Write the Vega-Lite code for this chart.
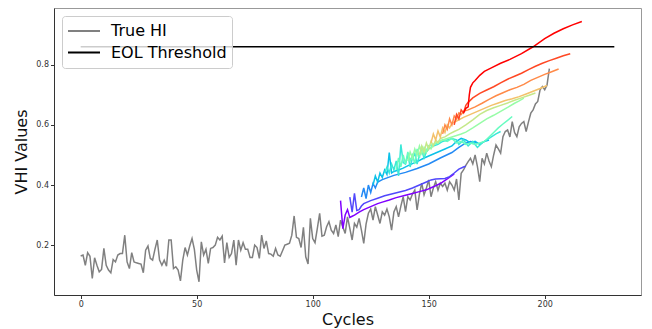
{
  "$schema": "https://vega.github.io/schema/vega-lite/v6.json",
  "width": 587,
  "height": 287,
  "autosize": {"type": "none"},
  "padding": {"left": 54, "top": 8, "right": 11, "bottom": 34},
  "config": {
    "font": "DejaVu Sans",
    "view": {"stroke": "#999", "strokeWidth": 1},
    "axis": {"grid": false, "domainColor": "#333", "tickColor": "#333", "labelColor": "#333", "tickSize": 3.5, "labelFontSize": 8, "labelPadding": 2, "titleFontSize": 16, "titleFontWeight": "normal", "titleColor": "#111"}
  },
  "data": {"values": [
    {"c":0,"v":0.164,"s":"True HI"},{"c":1,"v":0.167,"s":"True HI"},{"c":2,"v":0.133,"s":"True HI"},{"c":3,"v":0.175,"s":"True HI"},{"c":4,"v":0.163,"s":"True HI"},{"c":5,"v":0.089,"s":"True HI"},{"c":6,"v":0.158,"s":"True HI"},{"c":7,"v":0.133,"s":"True HI"},{"c":8,"v":0.111,"s":"True HI"},{"c":9,"v":0.119,"s":"True HI"},
    {"c":10,"v":0.189,"s":"True HI"},{"c":11,"v":0.133,"s":"True HI"},{"c":12,"v":0.117,"s":"True HI"},{"c":13,"v":0.108,"s":"True HI"},{"c":14,"v":0.152,"s":"True HI"},{"c":15,"v":0.144,"s":"True HI"},{"c":16,"v":0.167,"s":"True HI"},{"c":17,"v":0.172,"s":"True HI"},{"c":18,"v":0.172,"s":"True HI"},{"c":19,"v":0.233,"s":"True HI"},
    {"c":20,"v":0.144,"s":"True HI"},{"c":21,"v":0.122,"s":"True HI"},{"c":22,"v":0.175,"s":"True HI"},{"c":23,"v":0.144,"s":"True HI"},{"c":24,"v":0.141,"s":"True HI"},{"c":25,"v":0.139,"s":"True HI"},{"c":26,"v":0.137,"s":"True HI"},{"c":27,"v":0.108,"s":"True HI"},{"c":28,"v":0.183,"s":"True HI"},{"c":29,"v":0.197,"s":"True HI"},
    {"c":30,"v":0.156,"s":"True HI"},{"c":31,"v":0.15,"s":"True HI"},{"c":32,"v":0.186,"s":"True HI"},{"c":33,"v":0.217,"s":"True HI"},{"c":34,"v":0.15,"s":"True HI"},{"c":35,"v":0.133,"s":"True HI"},{"c":36,"v":0.15,"s":"True HI"},{"c":37,"v":0.13,"s":"True HI"},{"c":38,"v":0.217,"s":"True HI"},{"c":39,"v":0.217,"s":"True HI"},
    {"c":40,"v":0.122,"s":"True HI"},{"c":41,"v":0.128,"s":"True HI"},{"c":42,"v":0.117,"s":"True HI"},{"c":43,"v":0.081,"s":"True HI"},{"c":44,"v":0.15,"s":"True HI"},{"c":45,"v":0.192,"s":"True HI"},{"c":46,"v":0.167,"s":"True HI"},{"c":47,"v":0.197,"s":"True HI"},{"c":48,"v":0.222,"s":"True HI"},{"c":49,"v":0.186,"s":"True HI"},
    {"c":50,"v":0.117,"s":"True HI"},{"c":51,"v":0.078,"s":"True HI"},{"c":52,"v":0.211,"s":"True HI"},{"c":53,"v":0.167,"s":"True HI"},{"c":54,"v":0.186,"s":"True HI"},{"c":55,"v":0.139,"s":"True HI"},{"c":56,"v":0.189,"s":"True HI"},{"c":57,"v":0.192,"s":"True HI"},{"c":58,"v":0.2,"s":"True HI"},{"c":59,"v":0.226,"s":"True HI"},
    {"c":60,"v":0.217,"s":"True HI"},{"c":61,"v":0.23,"s":"True HI"},{"c":62,"v":0.141,"s":"True HI"},{"c":63,"v":0.208,"s":"True HI"},{"c":64,"v":0.159,"s":"True HI"},{"c":65,"v":0.172,"s":"True HI"},{"c":66,"v":0.217,"s":"True HI"},{"c":67,"v":0.133,"s":"True HI"},{"c":68,"v":0.217,"s":"True HI"},{"c":69,"v":0.183,"s":"True HI"},
    {"c":70,"v":0.208,"s":"True HI"},{"c":71,"v":0.186,"s":"True HI"},{"c":72,"v":0.186,"s":"True HI"},{"c":73,"v":0.159,"s":"True HI"},{"c":74,"v":0.159,"s":"True HI"},{"c":75,"v":0.2,"s":"True HI"},{"c":76,"v":0.192,"s":"True HI"},{"c":77,"v":0.156,"s":"True HI"},{"c":78,"v":0.233,"s":"True HI"},{"c":79,"v":0.189,"s":"True HI"},
    {"c":80,"v":0.214,"s":"True HI"},{"c":81,"v":0.172,"s":"True HI"},{"c":82,"v":0.17,"s":"True HI"},{"c":83,"v":0.163,"s":"True HI"},{"c":84,"v":0.189,"s":"True HI"},{"c":85,"v":0.167,"s":"True HI"},{"c":86,"v":0.163,"s":"True HI"},{"c":87,"v":0.181,"s":"True HI"},{"c":88,"v":0.2,"s":"True HI"},{"c":89,"v":0.203,"s":"True HI"},
    {"c":90,"v":0.206,"s":"True HI"},{"c":91,"v":0.233,"s":"True HI"},{"c":92,"v":0.297,"s":"True HI"},{"c":93,"v":0.226,"s":"True HI"},{"c":94,"v":0.222,"s":"True HI"},{"c":95,"v":0.192,"s":"True HI"},{"c":96,"v":0.259,"s":"True HI"},{"c":97,"v":0.161,"s":"True HI"},{"c":98,"v":0.137,"s":"True HI"},{"c":99,"v":0.289,"s":"True HI"},
    {"c":100,"v":0.222,"s":"True HI"},{"c":101,"v":0.208,"s":"True HI"},{"c":102,"v":0.256,"s":"True HI"},{"c":103,"v":0.306,"s":"True HI"},{"c":104,"v":0.23,"s":"True HI"},{"c":105,"v":0.233,"s":"True HI"},{"c":106,"v":0.261,"s":"True HI"},{"c":107,"v":0.278,"s":"True HI"},{"c":108,"v":0.25,"s":"True HI"},{"c":109,"v":0.239,"s":"True HI"},
    {"c":110,"v":0.267,"s":"True HI"},{"c":111,"v":0.228,"s":"True HI"},{"c":112,"v":0.283,"s":"True HI"},{"c":113,"v":0.26,"s":"True HI"},{"c":114,"v":0.239,"s":"True HI"},{"c":115,"v":0.294,"s":"True HI"},{"c":116,"v":0.256,"s":"True HI"},{"c":117,"v":0.217,"s":"True HI"},{"c":118,"v":0.272,"s":"True HI"},{"c":119,"v":0.26,"s":"True HI"},
    {"c":120,"v":0.289,"s":"True HI"},{"c":121,"v":0.25,"s":"True HI"},{"c":122,"v":0.206,"s":"True HI"},{"c":123,"v":0.27,"s":"True HI"},{"c":124,"v":0.306,"s":"True HI"},{"c":125,"v":0.32,"s":"True HI"},{"c":126,"v":0.283,"s":"True HI"},{"c":127,"v":0.328,"s":"True HI"},{"c":128,"v":0.3,"s":"True HI"},{"c":129,"v":0.272,"s":"True HI"},
    {"c":130,"v":0.311,"s":"True HI"},{"c":131,"v":0.3,"s":"True HI"},{"c":132,"v":0.32,"s":"True HI"},{"c":133,"v":0.294,"s":"True HI"},{"c":134,"v":0.25,"s":"True HI"},{"c":135,"v":0.31,"s":"True HI"},{"c":136,"v":0.328,"s":"True HI"},{"c":137,"v":0.294,"s":"True HI"},{"c":138,"v":0.33,"s":"True HI"},{"c":139,"v":0.361,"s":"True HI"},
    {"c":140,"v":0.311,"s":"True HI"},{"c":141,"v":0.361,"s":"True HI"},{"c":142,"v":0.35,"s":"True HI"},{"c":143,"v":0.37,"s":"True HI"},{"c":144,"v":0.383,"s":"True HI"},{"c":145,"v":0.317,"s":"True HI"},{"c":146,"v":0.37,"s":"True HI"},{"c":147,"v":0.406,"s":"True HI"},{"c":148,"v":0.367,"s":"True HI"},{"c":149,"v":0.39,"s":"True HI"},
    {"c":150,"v":0.417,"s":"True HI"},{"c":151,"v":0.361,"s":"True HI"},{"c":152,"v":0.39,"s":"True HI"},{"c":153,"v":0.411,"s":"True HI"},{"c":154,"v":0.383,"s":"True HI"},{"c":155,"v":0.406,"s":"True HI"},{"c":156,"v":0.395,"s":"True HI"},{"c":157,"v":0.406,"s":"True HI"},{"c":158,"v":0.383,"s":"True HI"},{"c":159,"v":0.411,"s":"True HI"},
    {"c":160,"v":0.4,"s":"True HI"},{"c":161,"v":0.383,"s":"True HI"},{"c":162,"v":0.42,"s":"True HI"},{"c":163,"v":0.35,"s":"True HI"},{"c":164,"v":0.439,"s":"True HI"},{"c":165,"v":0.45,"s":"True HI"},{"c":166,"v":0.465,"s":"True HI"},{"c":167,"v":0.478,"s":"True HI"},{"c":168,"v":0.489,"s":"True HI"},{"c":169,"v":0.47,"s":"True HI"},
    {"c":170,"v":0.5,"s":"True HI"},{"c":171,"v":0.461,"s":"True HI"},{"c":172,"v":0.411,"s":"True HI"},{"c":173,"v":0.489,"s":"True HI"},{"c":174,"v":0.47,"s":"True HI"},{"c":175,"v":0.506,"s":"True HI"},{"c":176,"v":0.48,"s":"True HI"},{"c":177,"v":0.461,"s":"True HI"},{"c":178,"v":0.5,"s":"True HI"},{"c":179,"v":0.533,"s":"True HI"},
    {"c":180,"v":0.52,"s":"True HI"},{"c":181,"v":0.506,"s":"True HI"},{"c":182,"v":0.561,"s":"True HI"},{"c":183,"v":0.578,"s":"True HI"},{"c":184,"v":0.583,"s":"True HI"},{"c":185,"v":0.56,"s":"True HI"},{"c":186,"v":0.611,"s":"True HI"},{"c":187,"v":0.575,"s":"True HI"},{"c":188,"v":0.561,"s":"True HI"},{"c":189,"v":0.594,"s":"True HI"},
    {"c":190,"v":0.605,"s":"True HI"},{"c":191,"v":0.611,"s":"True HI"},{"c":192,"v":0.578,"s":"True HI"},{"c":193,"v":0.61,"s":"True HI"},{"c":194,"v":0.639,"s":"True HI"},{"c":195,"v":0.65,"s":"True HI"},{"c":196,"v":0.67,"s":"True HI"},{"c":197,"v":0.678,"s":"True HI"},{"c":198,"v":0.717,"s":"True HI"},{"c":199,"v":0.728,"s":"True HI"},
    {"c":200,"v":0.717,"s":"True HI"},{"c":201,"v":0.733,"s":"True HI"},{"c":202,"v":0.787,"s":"True HI"},

    {"c":112,"v":0.348,"s":"p00"},{"c":112.5,"v":0.3,"s":"p00"},{"c":113,"v":0.255,"s":"p00"},{"c":114,"v":0.3,"s":"p00"},{"c":115,"v":0.318,"s":"p00"},{"c":116,"v":0.292,"s":"p00"},{"c":117,"v":0.296,"s":"p00"},{"c":118,"v":0.3,"s":"p00"},{"c":120,"v":0.31,"s":"p00"},{"c":122,"v":0.318,"s":"p00"},{"c":125,"v":0.328,"s":"p00"},{"c":128,"v":0.338,"s":"p00"},{"c":130,"v":0.343,"s":"p00"},{"c":133,"v":0.35,"s":"p00"},{"c":136,"v":0.358,"s":"p00"},{"c":140,"v":0.366,"s":"p00"},{"c":143,"v":0.372,"s":"p00"},{"c":146,"v":0.378,"s":"p00"},{"c":149,"v":0.384,"s":"p00"},{"c":152,"v":0.394,"s":"p00"},{"c":155,"v":0.405,"s":"p00"},{"c":158,"v":0.42,"s":"p00"},{"c":161,"v":0.437,"s":"p00"},

    {"c":116,"v":0.36,"s":"p01"},{"c":117,"v":0.31,"s":"p01"},{"c":118,"v":0.372,"s":"p01"},{"c":119,"v":0.315,"s":"p01"},{"c":120,"v":0.318,"s":"p01"},{"c":121,"v":0.33,"s":"p01"},{"c":122,"v":0.338,"s":"p01"},{"c":125,"v":0.348,"s":"p01"},{"c":128,"v":0.356,"s":"p01"},{"c":131,"v":0.364,"s":"p01"},{"c":134,"v":0.37,"s":"p01"},{"c":137,"v":0.376,"s":"p01"},{"c":140,"v":0.382,"s":"p01"},{"c":143,"v":0.39,"s":"p01"},{"c":146,"v":0.4,"s":"p01"},{"c":149,"v":0.41,"s":"p01"},{"c":151,"v":0.417,"s":"p01"},{"c":153,"v":0.42,"s":"p01"},{"c":155,"v":0.421,"s":"p01"},{"c":157,"v":0.422,"s":"p01"},{"c":159,"v":0.428,"s":"p01"},{"c":161,"v":0.44,"s":"p01"},{"c":163,"v":0.453,"s":"p01"},{"c":165,"v":0.46,"s":"p01"},{"c":166,"v":0.463,"s":"p01"},

    {"c":121,"v":0.36,"s":"p02"},{"c":122,"v":0.39,"s":"p02"},{"c":123,"v":0.355,"s":"p02"},{"c":124,"v":0.4,"s":"p02"},{"c":125,"v":0.375,"s":"p02"},{"c":126,"v":0.405,"s":"p02"},{"c":127,"v":0.39,"s":"p02"},{"c":128,"v":0.41,"s":"p02"},{"c":130,"v":0.418,"s":"p02"},{"c":135,"v":0.432,"s":"p02"},{"c":140,"v":0.442,"s":"p02"},{"c":145,"v":0.455,"s":"p02"},{"c":150,"v":0.47,"s":"p02"},{"c":155,"v":0.49,"s":"p02"},{"c":160,"v":0.508,"s":"p02"},{"c":163,"v":0.525,"s":"p02"},{"c":166,"v":0.54,"s":"p02"},{"c":168,"v":0.545,"s":"p02"},{"c":171,"v":0.54,"s":"p02"},

    {"c":126,"v":0.4,"s":"p03"},{"c":127,"v":0.43,"s":"p03"},{"c":128,"v":0.41,"s":"p03"},{"c":129,"v":0.44,"s":"p03"},{"c":130,"v":0.425,"s":"p03"},{"c":131,"v":0.45,"s":"p03"},{"c":132,"v":0.435,"s":"p03"},{"c":133,"v":0.508,"s":"p03"},{"c":134,"v":0.44,"s":"p03"},{"c":135,"v":0.445,"s":"p03"},{"c":137,"v":0.45,"s":"p03"},{"c":139,"v":0.456,"s":"p03"},{"c":142,"v":0.468,"s":"p03"},{"c":145,"v":0.478,"s":"p03"},{"c":148,"v":0.49,"s":"p03"},{"c":151,"v":0.5,"s":"p03"},{"c":154,"v":0.51,"s":"p03"},{"c":157,"v":0.52,"s":"p03"},{"c":160,"v":0.53,"s":"p03"},{"c":162,"v":0.545,"s":"p03"},{"c":164,"v":0.555,"s":"p03"},{"c":166,"v":0.55,"s":"p03"},{"c":168,"v":0.54,"s":"p03"},{"c":170,"v":0.545,"s":"p03"},{"c":172,"v":0.535,"s":"p03"},{"c":174,"v":0.545,"s":"p03"},{"c":176,"v":0.55,"s":"p03"},

    {"c":131,"v":0.44,"s":"p04"},{"c":132,"v":0.46,"s":"p04"},{"c":133,"v":0.44,"s":"p04"},{"c":134,"v":0.47,"s":"p04"},{"c":135,"v":0.45,"s":"p04"},{"c":136,"v":0.48,"s":"p04"},{"c":137,"v":0.43,"s":"p04"},{"c":138,"v":0.535,"s":"p04"},{"c":139,"v":0.475,"s":"p04"},{"c":140,"v":0.47,"s":"p04"},{"c":141,"v":0.5,"s":"p04"},{"c":142,"v":0.46,"s":"p04"},{"c":143,"v":0.49,"s":"p04"},{"c":144,"v":0.505,"s":"p04"},{"c":145,"v":0.47,"s":"p04"},{"c":146,"v":0.5,"s":"p04"},{"c":147,"v":0.515,"s":"p04"},{"c":148,"v":0.49,"s":"p04"},{"c":149,"v":0.51,"s":"p04"},{"c":150,"v":0.52,"s":"p04"},{"c":152,"v":0.53,"s":"p04"},{"c":154,"v":0.535,"s":"p04"},{"c":156,"v":0.545,"s":"p04"},{"c":158,"v":0.55,"s":"p04"},{"c":160,"v":0.555,"s":"p04"},{"c":162,"v":0.55,"s":"p04"},{"c":163,"v":0.535,"s":"p04"},{"c":165,"v":0.55,"s":"p04"},{"c":167,"v":0.53,"s":"p04"},{"c":169,"v":0.545,"s":"p04"},{"c":171,"v":0.525,"s":"p04"},{"c":173,"v":0.54,"s":"p04"},{"c":175,"v":0.55,"s":"p04"},{"c":177,"v":0.56,"s":"p04"},{"c":179,"v":0.57,"s":"p04"},{"c":181,"v":0.578,"s":"p04"},

    {"c":136,"v":0.45,"s":"p05"},{"c":137,"v":0.49,"s":"p05"},{"c":138,"v":0.46,"s":"p05"},{"c":139,"v":0.5,"s":"p05"},{"c":140,"v":0.47,"s":"p05"},{"c":141,"v":0.51,"s":"p05"},{"c":142,"v":0.48,"s":"p05"},{"c":143,"v":0.5,"s":"p05"},{"c":144,"v":0.47,"s":"p05"},{"c":145,"v":0.52,"s":"p05"},{"c":146,"v":0.49,"s":"p05"},{"c":147,"v":0.53,"s":"p05"},{"c":148,"v":0.5,"s":"p05"},{"c":149,"v":0.515,"s":"p05"},{"c":150,"v":0.53,"s":"p05"},{"c":152,"v":0.535,"s":"p05"},{"c":154,"v":0.54,"s":"p05"},{"c":156,"v":0.55,"s":"p05"},{"c":158,"v":0.545,"s":"p05"},{"c":160,"v":0.555,"s":"p05"},{"c":162,"v":0.54,"s":"p05"},{"c":164,"v":0.545,"s":"p05"},{"c":166,"v":0.535,"s":"p05"},{"c":168,"v":0.54,"s":"p05"},{"c":170,"v":0.535,"s":"p05"},{"c":172,"v":0.54,"s":"p05"},{"c":174,"v":0.545,"s":"p05"},{"c":176,"v":0.56,"s":"p05"},{"c":178,"v":0.575,"s":"p05"},{"c":180,"v":0.59,"s":"p05"},{"c":182,"v":0.603,"s":"p05"},{"c":184,"v":0.615,"s":"p05"},{"c":186,"v":0.628,"s":"p05"},

    {"c":141,"v":0.48,"s":"p06"},{"c":142,"v":0.51,"s":"p06"},{"c":143,"v":0.49,"s":"p06"},{"c":144,"v":0.52,"s":"p06"},{"c":145,"v":0.5,"s":"p06"},{"c":146,"v":0.53,"s":"p06"},{"c":147,"v":0.505,"s":"p06"},{"c":148,"v":0.525,"s":"p06"},{"c":149,"v":0.51,"s":"p06"},{"c":150,"v":0.53,"s":"p06"},{"c":151,"v":0.52,"s":"p06"},{"c":152,"v":0.535,"s":"p06"},{"c":154,"v":0.545,"s":"p06"},{"c":156,"v":0.55,"s":"p06"},{"c":158,"v":0.555,"s":"p06"},{"c":160,"v":0.56,"s":"p06"},{"c":162,"v":0.565,"s":"p06"},{"c":164,"v":0.57,"s":"p06"},{"c":166,"v":0.576,"s":"p06"},{"c":169,"v":0.59,"s":"p06"},{"c":172,"v":0.605,"s":"p06"},{"c":175,"v":0.62,"s":"p06"},{"c":178,"v":0.632,"s":"p06"},{"c":181,"v":0.645,"s":"p06"},{"c":184,"v":0.658,"s":"p06"},{"c":187,"v":0.672,"s":"p06"},{"c":189,"v":0.68,"s":"p06"},{"c":191,"v":0.689,"s":"p06"},

    {"c":146,"v":0.5,"s":"p07"},{"c":147,"v":0.53,"s":"p07"},{"c":148,"v":0.51,"s":"p07"},{"c":149,"v":0.54,"s":"p07"},{"c":150,"v":0.52,"s":"p07"},{"c":151,"v":0.545,"s":"p07"},{"c":152,"v":0.53,"s":"p07"},{"c":153,"v":0.55,"s":"p07"},{"c":154,"v":0.54,"s":"p07"},{"c":155,"v":0.555,"s":"p07"},{"c":157,"v":0.56,"s":"p07"},{"c":159,"v":0.57,"s":"p07"},{"c":161,"v":0.578,"s":"p07"},{"c":163,"v":0.585,"s":"p07"},{"c":166,"v":0.6,"s":"p07"},{"c":169,"v":0.617,"s":"p07"},{"c":172,"v":0.635,"s":"p07"},{"c":175,"v":0.648,"s":"p07"},{"c":178,"v":0.657,"s":"p07"},{"c":181,"v":0.665,"s":"p07"},{"c":184,"v":0.673,"s":"p07"},{"c":187,"v":0.682,"s":"p07"},{"c":190,"v":0.69,"s":"p07"},{"c":193,"v":0.698,"s":"p07"},{"c":196,"v":0.706,"s":"p07"},

    {"c":151,"v":0.54,"s":"p08"},{"c":152,"v":0.57,"s":"p08"},{"c":153,"v":0.55,"s":"p08"},{"c":154,"v":0.58,"s":"p08"},{"c":155,"v":0.56,"s":"p08"},{"c":156,"v":0.59,"s":"p08"},{"c":157,"v":0.575,"s":"p08"},{"c":158,"v":0.6,"s":"p08"},{"c":159,"v":0.59,"s":"p08"},{"c":160,"v":0.605,"s":"p08"},{"c":162,"v":0.613,"s":"p08"},{"c":165,"v":0.625,"s":"p08"},{"c":168,"v":0.635,"s":"p08"},{"c":171,"v":0.645,"s":"p08"},{"c":174,"v":0.655,"s":"p08"},{"c":177,"v":0.665,"s":"p08"},{"c":180,"v":0.673,"s":"p08"},{"c":183,"v":0.681,"s":"p08"},{"c":186,"v":0.687,"s":"p08"},{"c":189,"v":0.694,"s":"p08"},{"c":192,"v":0.703,"s":"p08"},{"c":195,"v":0.712,"s":"p08"},{"c":198,"v":0.721,"s":"p08"},{"c":201,"v":0.731,"s":"p08"},

    {"c":156,"v":0.57,"s":"p09"},{"c":157,"v":0.6,"s":"p09"},{"c":158,"v":0.585,"s":"p09"},{"c":159,"v":0.62,"s":"p09"},{"c":160,"v":0.6,"s":"p09"},{"c":161,"v":0.63,"s":"p09"},{"c":162,"v":0.62,"s":"p09"},{"c":163,"v":0.64,"s":"p09"},{"c":164,"v":0.635,"s":"p09"},{"c":165,"v":0.645,"s":"p09"},{"c":167,"v":0.65,"s":"p09"},{"c":170,"v":0.66,"s":"p09"},{"c":173,"v":0.672,"s":"p09"},{"c":176,"v":0.685,"s":"p09"},{"c":179,"v":0.697,"s":"p09"},{"c":182,"v":0.707,"s":"p09"},{"c":185,"v":0.717,"s":"p09"},{"c":188,"v":0.725,"s":"p09"},{"c":191,"v":0.735,"s":"p09"},{"c":194,"v":0.748,"s":"p09"},{"c":197,"v":0.758,"s":"p09"},{"c":200,"v":0.768,"s":"p09"},{"c":203,"v":0.777,"s":"p09"},{"c":206,"v":0.786,"s":"p09"},

    {"c":161,"v":0.6,"s":"p10"},{"c":162,"v":0.635,"s":"p10"},{"c":163,"v":0.62,"s":"p10"},{"c":164,"v":0.65,"s":"p10"},{"c":165,"v":0.64,"s":"p10"},{"c":166,"v":0.665,"s":"p10"},{"c":167,"v":0.675,"s":"p10"},{"c":169,"v":0.69,"s":"p10"},{"c":172,"v":0.705,"s":"p10"},{"c":175,"v":0.716,"s":"p10"},{"c":178,"v":0.727,"s":"p10"},{"c":181,"v":0.74,"s":"p10"},{"c":184,"v":0.752,"s":"p10"},{"c":187,"v":0.762,"s":"p10"},{"c":190,"v":0.772,"s":"p10"},{"c":193,"v":0.784,"s":"p10"},{"c":196,"v":0.795,"s":"p10"},{"c":199,"v":0.805,"s":"p10"},{"c":202,"v":0.814,"s":"p10"},{"c":205,"v":0.822,"s":"p10"},{"c":208,"v":0.83,"s":"p10"},{"c":211,"v":0.837,"s":"p10"},

    {"c":165,"v":0.64,"s":"p11"},{"c":166,"v":0.655,"s":"p11"},{"c":167,"v":0.66,"s":"p11"},{"c":167.5,"v":0.7,"s":"p11"},{"c":168,"v":0.725,"s":"p11"},{"c":169,"v":0.74,"s":"p11"},{"c":170,"v":0.748,"s":"p11"},{"c":172,"v":0.765,"s":"p11"},{"c":174,"v":0.778,"s":"p11"},{"c":177,"v":0.79,"s":"p11"},{"c":181,"v":0.805,"s":"p11"},{"c":185,"v":0.818,"s":"p11"},{"c":190,"v":0.837,"s":"p11"},{"c":195,"v":0.86,"s":"p11"},{"c":200,"v":0.887,"s":"p11"},{"c":204,"v":0.905,"s":"p11"},{"c":208,"v":0.92,"s":"p11"},{"c":212,"v":0.933,"s":"p11"},{"c":216,"v":0.944,"s":"p11"},

    {"c":0,"v":0.86,"s":"EOL Threshold"},{"c":230,"v":0.86,"s":"EOL Threshold"}
  ]},
  "mark": {"type": "line", "strokeWidth": 1.5},
  "encoding": {
    "x": {"field": "c", "type": "quantitative", "title": "Cycles",
      "scale": {"domain": [-11.5, 241.5], "nice": false, "zero": false},
      "axis": {"values": [0, 50, 100, 150, 200], "titlePadding": 3}},
    "y": {"field": "v", "type": "quantitative", "title": "VHI Values",
      "scale": {"domain": [0.034, 0.989], "nice": false, "zero": false},
      "axis": {"values": [0.2, 0.4, 0.6, 0.8], "format": ".1f", "titlePadding": 6}},
    "color": {"field": "s", "type": "nominal",
      "scale": {
        "domain": ["True HI", "EOL Threshold", "p00", "p01", "p02", "p03", "p04", "p05", "p06", "p07", "p08", "p09", "p10", "p11"],
        "range": ["#808080", "#000000", "#8000ff", "#5148fc", "#238af5", "#0cc1e8", "#3ae8d7", "#68fcc1", "#97fca7", "#c5e88a", "#f3c16a", "#ff8a48", "#ff4824", "#ff0000"]},
      "legend": {"values": ["True HI", "EOL Threshold"], "title": null, "orient": "top-left", "offset": 8, "padding": 5,
        "clipHeight": 20, "rowPadding": 1.5, "symbolType": "stroke", "symbolSize": 1024, "symbolStrokeWidth": 1.8,
        "labelFontSize": 16, "labelFont": "DejaVu Sans", "labelColor": "#000", "labelOffset": 10, "labelLimit": 300,
        "fillColor": "rgba(255,255,255,0.8)", "strokeColor": "#ccc", "cornerRadius": 3}}
  }
}
